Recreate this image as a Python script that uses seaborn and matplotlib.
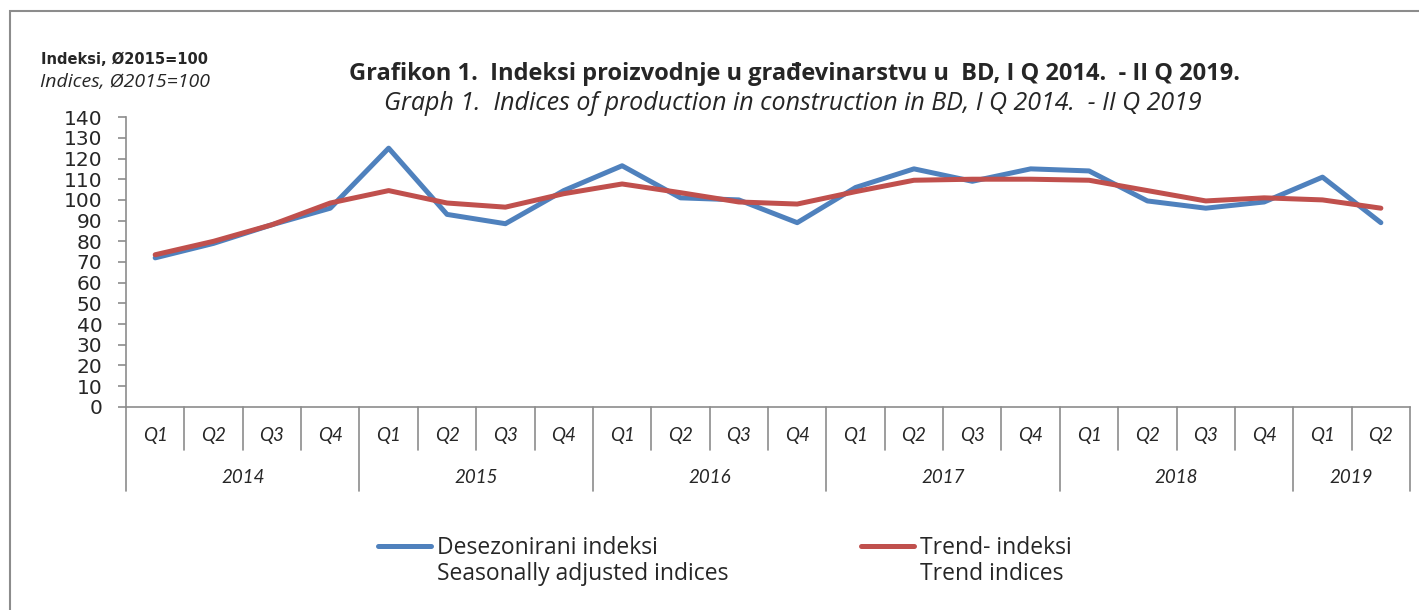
import seaborn as sns
import pandas as pd
import matplotlib.pyplot as plt
from matplotlib.patches import Rectangle

years = ["2014", "2015", "2016", "2017", "2018", "2019"]
quarters = ["Q1", "Q2", "Q3", "Q4"] * 5 + ["Q1", "Q2"]
seasonal = [72, 79, 88, 96, 125, 93, 88.5, 104.5, 116.5, 101, 100, 89,
            106, 115, 109, 115, 114, 99.5, 96, 99, 111, 89]
trend = [73.5, 80, 88, 98.5, 104.5, 98.5, 96.5, 103, 107.7, 103.5, 99, 98,
         104, 109.5, 110, 110, 109.5, 104.5, 99.5, 101, 100, 96]
legend_top = ["Desezonirani indeksi", "Trend- indeksi"]
legend_bottom = ["Seasonally adjusted indices", "Trend indices"]

df = pd.DataFrame({"idx": range(len(quarters)), "seasonal": seasonal, "trend": trend})

sns.set_style("white")
plt.rcParams['font.family'] = ['DejaVu Sans']
lato = ['Lato', 'DejaVu Sans']
opens = ['Open Sans', 'DejaVu Sans']

fig = plt.figure(figsize=(14.19, 6.1), dpi=100)
ax = fig.add_axes([0.0888, 0.333, 0.9049, 0.475])

blue = "#4F81BD"
red = "#C0504D"
sns.lineplot(data=df, x="idx", y="seasonal", color=blue, lw=3.6, ax=ax,
             label=legend_top[0], legend=False)
sns.lineplot(data=df, x="idx", y="trend", color=red, lw=3.6, ax=ax,
             label=legend_top[1], legend=False)

ax.set_xlim(-0.5, len(quarters) - 0.5)
ax.set_ylim(0, 140)
ax.set_yticks(range(0, 141, 10))
ax.set_xticks([])
ax.set_xlabel("")
ax.set_ylabel("")
for s in ["top", "right"]:
    ax.spines[s].set_visible(False)
for s in ["left", "bottom"]:
    ax.spines[s].set_color("#8c8c8c")
    ax.spines[s].set_linewidth(1.2)
ax.tick_params(axis="y", direction="out", length=6, width=1.2, color="#8c8c8c",
               labelsize=14.5, pad=11, left=True)

# category axis: quarters and years
tr = ax.get_xaxis_transform()
for i, q in enumerate(quarters):
    ax.text(i, -0.1, q, transform=tr, ha="center", va="center", fontsize=13.5,
            style="italic", family=lato)
year_starts = [0, 4, 8, 12, 16, 20, 22]
for i in range(len(quarters) + 1):
    bottom = -0.29 if i in year_starts else -0.148
    ax.plot([i - 0.5, i - 0.5], [0, bottom], transform=tr, color="#8c8c8c",
            lw=1.2, clip_on=False)
for k, y in enumerate(years):
    mid = (year_starts[k] + year_starts[k + 1] - 1) / 2
    ax.text(mid, -0.245, y, transform=tr, ha="center", va="center", fontsize=13.5,
            style="italic", family=lato)

# titles
fig.text(0.5596, 0.878, "Grafikon 1.  Indeksi proizvodnje u građevinarstvu u  BD, I Q 2014.  - II Q 2019.",
         ha="center", va="center", fontsize=17, weight="bold", family=opens)
fig.text(0.5589, 0.831, "Graph 1.  Indices of production in construction in BD, I Q 2014.  - II Q 2019",
         ha="center", va="center", fontsize=18, style="italic", family=opens)
fig.text(0.088, 0.902, "Indeksi, Ø2015=100", ha="center", va="center",
         fontsize=10.5, weight="bold")
fig.text(0.088, 0.866, "Indices, Ø2015=100", ha="center", va="center",
         fontsize=14, style="italic", family=opens)

handles, labels = ax.get_legend_handles_labels()
leg = fig.legend(handles, labels, loc="center left", bbox_to_anchor=(0.2665, 0.1016),
                 ncol=2, frameon=False, prop={"family": opens, "size": 16.5},
                 handlelength=2.3, handletextpad=0.25, columnspacing=8.9,
                 borderaxespad=0, borderpad=0)

fig.canvas.draw()
inv = fig.transFigure.inverted()
for t, txt in zip(leg.get_texts(), legend_bottom):
    bb = t.get_window_extent()
    x0, _ = inv.transform((bb.x0, bb.y0))
    fig.text(x0, 0.059, txt, ha="left", va="center", fontsize=16.5, family=opens)

# chart area border
fig.patches.append(Rectangle((10 / 1419, -0.05), 1.1, 1 - 11 / 610 + 0.05,
                             transform=fig.transFigure, fill=False,
                             edgecolor="#8c8c8c", lw=1.5))

fig.savefig("out.png", dpi=100)
